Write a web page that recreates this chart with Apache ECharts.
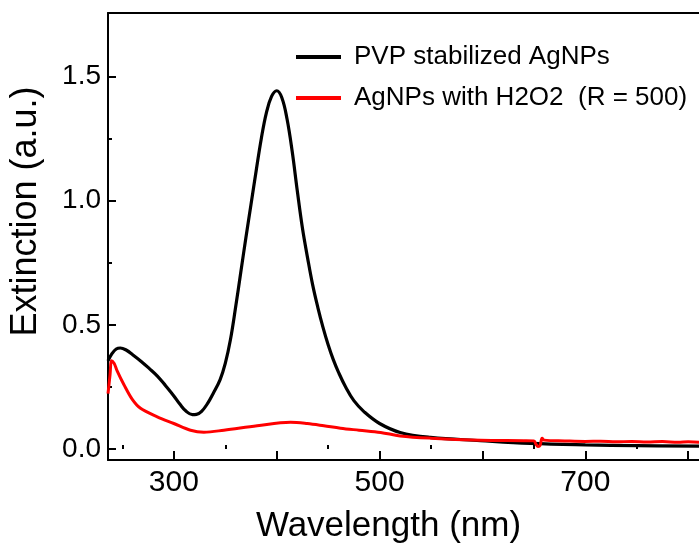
<!DOCTYPE html>
<html>
<head>
<meta charset="utf-8">
<script src="https://cdn.jsdelivr.net/npm/echarts@6/dist/echarts.min.js"></script>
<style>
  html, body { margin: 0; padding: 0; background: #ffffff; }
  #chart { width: 699px; height: 549px; }
</style>
</head>
<body>
<div id="chart"></div>
<script>
// Extinction spectra (wavelength in nm, extinction in a.u.)
const pvpWavelength = [236, 240, 244, 248, 254, 260, 268, 276, 284, 292, 300, 306, 312, 318, 322, 327, 333, 338, 345, 350, 355, 360, 365, 370, 375, 380, 385, 390, 395, 400, 405, 410, 415, 420, 425, 430, 435, 440, 445, 450, 455, 460, 467, 475, 485, 500, 520, 549.5, 598, 646.6, 700, 750, 811];
const pvpExtinction = [0.355, 0.385, 0.403, 0.407, 0.398, 0.38, 0.354, 0.325, 0.294, 0.255, 0.214, 0.18, 0.152, 0.139, 0.14, 0.152, 0.185, 0.222, 0.28, 0.345, 0.44, 0.57, 0.71, 0.85, 0.985, 1.12, 1.25, 1.355, 1.42, 1.443, 1.415, 1.33, 1.2, 1.04, 0.89, 0.77, 0.66, 0.57, 0.49, 0.42, 0.36, 0.31, 0.25, 0.195, 0.15, 0.103, 0.067, 0.047, 0.034, 0.023, 0.017, 0.014, 0.012];

const h2o2Wavelength = [236, 238, 239.5, 242, 245, 251.4, 259.6, 267.6, 283.9, 300, 316.2, 329.2, 348.6, 381, 413.4, 429.6, 445.8, 462, 480, 501, 520, 549.5, 598, 640, 650, 652, 654, 656, 658, 660, 680, 700, 715, 730, 745, 760, 775, 790, 800, 811];
const h2o2Extinction = [0.223, 0.3, 0.356, 0.345, 0.314, 0.26, 0.2, 0.164, 0.13, 0.103, 0.076, 0.068, 0.076, 0.094, 0.108, 0.103, 0.094, 0.084, 0.076, 0.067, 0.053, 0.044, 0.036, 0.034, 0.033, 0.02, 0.01, 0.015, 0.044, 0.036, 0.033, 0.031, 0.032, 0.029, 0.031, 0.028, 0.030, 0.027, 0.029, 0.027];

const seriesNames = ['PVP stabilized AgNPs', 'AgNPs with H2O2  (R = 500)'];

// Tick positions and labels
const xLabelValues = [300, 500, 700];
const xMajorTicks = [300, 400, 500, 600, 700, 800];
const xMinorTicks = [250, 350, 450, 550, 650, 750];
const yLabelValues = [0, 0.5, 1.0, 1.5];
const yMinorTicks = [0.25, 0.75, 1.25];

const xRange = [236, 810.5];
const yRange = [-0.044, 1.756];

const FONT = '"Liberation Sans", Arial, sans-serif';

const pairs = (xs, ys) => xs.map((x, i) => [x, ys[i]]);

const chart = echarts.init(document.getElementById('chart'), null, { renderer: 'canvas' });

const axisLineStyle = { color: '#000', width: 2 };

chart.setOption({
  animation: false,
  backgroundColor: '#ffffff',
  grid: { left: 107, right: 0, top: 13, bottom: 86, containLabel: false },
  legend: {
    orient: 'vertical',
    left: 291,
    top: 39,
    itemWidth: 45,
    itemHeight: 4,
    itemGap: 15,
    icon: 'rect',
    textStyle: { fontFamily: FONT, fontSize: 26, color: '#000', padding: [0, 0, 0, 8] },
    data: seriesNames
  },
  xAxis: [
    {
      type: 'value', min: xRange[0], max: xRange[1], position: 'bottom',
      name: 'Wavelength (nm)', nameLocation: 'middle', nameGap: 49,
      nameTextStyle: { fontFamily: FONT, fontSize: 35, color: '#000', padding: [0, 30, 0, 0] },
      axisLine: { show: true, onZero: false, lineStyle: axisLineStyle },
      axisTick: { show: true, inside: true, length: 9, lineStyle: { color: '#000', width: 2 }, customValues: xMajorTicks },
      axisLabel: { show: true, margin: 8, fontFamily: FONT, fontSize: 30, color: '#000', customValues: xLabelValues },
      splitLine: { show: false }
    },
    {
      type: 'value', min: xRange[0], max: xRange[1], position: 'bottom',
      axisLine: { show: false },
      axisTick: { show: true, inside: true, length: 4, lineStyle: { color: '#000', width: 2 }, customValues: xMinorTicks },
      axisLabel: { show: false },
      splitLine: { show: false }
    },
    {
      type: 'value', min: xRange[0], max: xRange[1], position: 'top',
      axisLine: { show: true, onZero: false, lineStyle: axisLineStyle },
      axisTick: { show: false },
      axisLabel: { show: false },
      splitLine: { show: false }
    }
  ],
  yAxis: [
    {
      type: 'value', min: yRange[0], max: yRange[1], position: 'left',
      name: 'Extinction (a.u.)', nameLocation: 'middle', nameGap: 64,
      nameTextStyle: { fontFamily: FONT, fontSize: 36, color: '#000', padding: [0, 0, 0, 50] },
      axisLine: { show: true, onZero: false, lineStyle: axisLineStyle },
      axisTick: { show: true, inside: true, length: 8, lineStyle: { color: '#000', width: 2 }, customValues: yLabelValues },
      axisLabel: {
        show: true, margin: 7, fontFamily: FONT, fontSize: 28, color: '#000', customValues: yLabelValues,
        formatter: (v) => Number(v).toFixed(1)
      },
      splitLine: { show: false }
    },
    {
      type: 'value', min: yRange[0], max: yRange[1], position: 'left',
      axisLine: { show: false },
      axisTick: { show: true, inside: true, length: 4, lineStyle: { color: '#000', width: 2 }, customValues: yMinorTicks },
      axisLabel: { show: false },
      splitLine: { show: false }
    }
  ],
  series: [
    {
      name: seriesNames[0], type: 'line', xAxisIndex: 0, yAxisIndex: 0,
      data: pairs(pvpWavelength, pvpExtinction),
      smooth: 0.4, showSymbol: false, symbol: 'none',
      lineStyle: { color: '#000000', width: 3.2 },
      itemStyle: { color: '#000000' },
      z: 2
    },
    {
      name: seriesNames[1], type: 'line', xAxisIndex: 0, yAxisIndex: 0,
      data: pairs(h2o2Wavelength, h2o2Extinction),
      smooth: 0.35, showSymbol: false, symbol: 'none',
      lineStyle: { color: '#ff0000', width: 3 },
      itemStyle: { color: '#ff0000' },
      z: 3
    }
  ]
});
</script>
</body>
</html>
